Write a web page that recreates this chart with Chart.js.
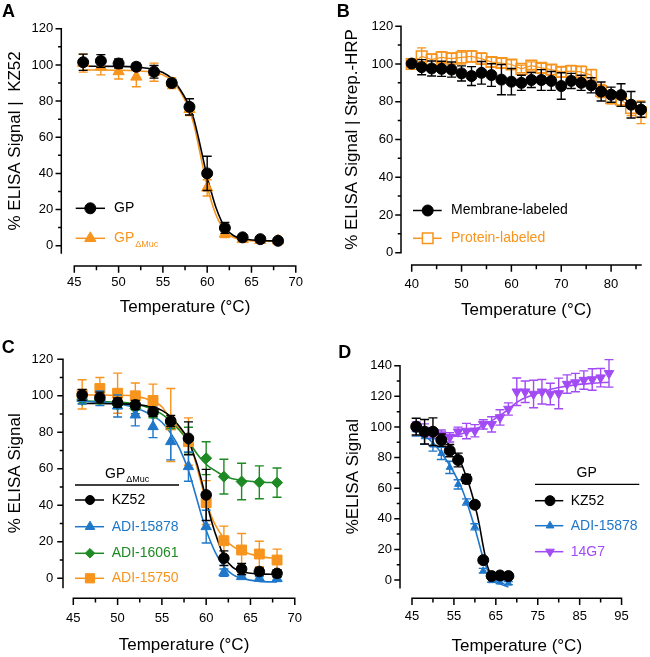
<!DOCTYPE html>
<html><head><meta charset="utf-8">
<script src="https://cdn.jsdelivr.net/npm/chart.js@4.4.1/dist/chart.umd.min.js"></script>
<style>
html,body{margin:0;padding:0;background:#fff;}
#wrap{position:relative;width:650px;height:657px;overflow:hidden;}
canvas{position:absolute;display:block;}
</style></head><body>
<div id="wrap">
<canvas id="cA" width="325" height="330" style="left:0;top:0;width:325px;height:330px"></canvas>
<canvas id="cB" width="325" height="330" style="left:325px;top:0;width:325px;height:330px"></canvas>
<canvas id="cC" width="325" height="327" style="left:0;top:330px;width:325px;height:327px"></canvas>
<canvas id="cD" width="325" height="327" style="left:325px;top:330px;width:325px;height:327px"></canvas>
</div>
<script>
// ---------------- DATA ----------------
// Panel A
const tempA = [46,48,50,52,54,56,58,60,62,64,66,68];
const gpA = [101.5,102.2,100.8,99.0,96.2,90.0,76.8,40.0,9.8,4.6,3.6,2.7];
const gpAErr = [4.5,3.5,2.5,2.0,3.5,2.0,4.5,9.5,3.0,1.5,1.2,1.0];
const gpMucA = [101.0,99.0,96.4,93.4,96.0,90.0,75.5,32.0,6.5,3.5,3.0,2.8];
const gpMucAErr = [5.0,4.5,4.2,5.5,5.0,3.0,3.5,4.5,2.0,1.0,1.0,0.8];
const fitTempA = [46,50,52,54,55,56,57,58,58.5,59,59.5,60,60.5,61,62,63,64,66,68];
const fitGpA = [99.3,99.2,98.8,97.5,95.8,92.5,86,77,70,60,49,38,29,21,10,5.5,3.8,2.9,2.6];
const fitGpMucA = [97.2,97.1,96.8,95.8,94.5,91.5,85,75,67,56,44,33,24,17,8,4.5,3.2,2.6,2.5];
const yTicksA = [0,20,40,60,80,100,120];
const yMinorA = [10,30,50,70,90,110];
const xTicksA = [45,50,55,60,65,70];
const xMinorA = [47.5,52.5,57.5,62.5,67.5];

// Panel B
const tempB = [40,42,44,46,48,50,52,54,56,58,60,62,64,66,68,70,72,74,76,78,80,82,84,86];
const memB = [100.2,98.3,97.6,97.4,97.0,95.0,93.6,95.3,94.1,91.7,90.6,90.0,91.5,91.5,91.0,88.3,91.0,90.0,88.7,85.4,83.7,83.5,78.4,75.8];
const memBErr = [1.0,4,4,4,4,4,5,6,6,8,7,4,4,5.5,5,7,4,4,4,5,4,6,7,4];
const protB = [100,104,102.3,103.5,102.8,103.5,104,102.8,101,100.5,99.7,97.4,99.1,97.9,97.0,95.8,96.2,95.8,94.1,85.7,81.9,81.0,76.7,74.4];
const protBErr = [1.5,4.5,3,3,3,3.5,3,3,2.5,2.5,2.5,2,2,2.5,2.5,2.5,3,3,3,3.5,3,3,4,6];
const yTicksB = [0,20,40,60,80,100,120];
const yMinorB = [10,30,50,70,90,110];
const xTicksB = [40,50,60,70,80];
const xMinorB = [45,55,65,75,85];

// Panel C
const tempC = [46,48,50,52,54,56,58,60,62,64,66,68];
const kzC = [100.5,99.0,96.3,95.0,91.3,86.2,76.7,45.7,11.0,5.1,3.7,2.7];
const kzCErr = [3,3,2.5,2.5,2.5,3,9,14,4,3,2,2];
const adi15878C = [98.5,98.6,94.4,89.5,83.1,74.9,61.2,28.3,3.1,0.9,0,-0.2];
const adi15878CErr = [3,4,6,6,6,10,8,9,2,1,1,1];
const adi16061C = [97.7,97.7,95.0,93.2,90.0,85.0,75.8,65.8,55.7,53.0,52.6,52.4];
const adi16061CErr = [2,2,2,3,2,3,7,9,9.5,10,9,8];
const adi15750C = [100.8,104.0,101.4,100.0,97.4,84.0,74.9,41.5,20.6,15.5,13.3,10.0];
const adi15750CErr = [8,6,11,7,9,20,13,12,8,9,7,6];
const fitTempC = [46,50,52,54,55,56,57,58,58.5,59,59.5,60,60.5,61,62,63,64,66,68];
const fitKzC = [95.8,95.6,95.2,93.8,92,88.5,83,76,69,62,53,43,33,25,12,6,3.7,2.4,2.2];
const fit15878C = [97,95.5,93.5,89,85.5,79.5,71,59,51,42.5,34,26.5,20,14.5,6.5,2,0,-1.7,-2];
const fit16061C = [97.2,96.5,95.5,92.5,90,86,81,75,71.5,68,65,62.5,60.5,59,56,54.5,53.7,52.8,52.4];
const fit15750C = [100.5,100.3,99.8,97,94,87,82,75,69,60,51,42,35,29.5,22,17.5,15,12,10.8];
const yTicksC = [0,20,40,60,80,100,120];
const yMinorC = [10,30,50,70,90,110];
const xTicksC = [45,50,55,60,65,70];
const xMinorC = [47.5,52.5,57.5,62.5,67.5];

// Panel D
const tempD = [46,48,50,52,54,56,58,60,62,64,66,68];
const kzD = [100.2,96.9,96.9,91.4,84.5,78.4,66.0,49.2,13.0,2.6,3.0,2.6];
const kzDErr = [5.5,8,9,4,4,4.5,3,2,2,1,1,1];
const adi15878D = [98,93.6,88.2,82.7,73.6,62.5,51,34.8,6.1,-0.4,-1.3,-2.0];
const adi15878DErr = [4,5,4,4,4,3,2,2,1.5,1,1,1];
const temp14G7 = [46,48,50,52,54,56,58,60,62,64,66,68,70,72,74,76,78,80,82,84,86,88,90,92];
const g14G7 = [100.2,98,95.8,95,93.2,96.9,97.3,97.5,101.7,101.7,106.2,111.7,123,123,121.5,123,121.5,121.9,128,129,130.6,131,132.2,135];
const g14G7Err = [3,4,3,3,3,3,5,4,3,5,5,4,9,7,9,8,7,10,6,6,6,7,6,9];
const fitTempKzD = [46,48,50,52,54,56,57,58,59,60,61,62,63,64,65,66,68];
const fitKzD = [99.3,98.5,96.8,93.5,88,80,74.5,67,59,49,37,22,9,3,1,0.6,0.4];
const fitTemp15878D = [46,48,50,52,54,56,57,58,59,60,61,62,63,64,66,68];
const fit15878D = [98.5,94.5,89.5,83,75,65,59,51.5,43,34,24,14,6.5,1.5,-2.5,-4.5];
const fitTemp14G7 = [46,48,50,52,54,56,58,60,62,64,66,68,70,72,74,76,78,80,84,88,92];
const fit14G7 = [99.5,97.3,95.5,94.5,94.3,95,96.5,98.5,101,104,107.5,111.5,116,119,121,123,124.5,125.8,127.5,128.5,129.2];
const yTicksD = [0,20,40,60,80,100,120,140];
const yMinorD = [10,30,50,70,90,110,130];
const xTicksD = [45,55,65,75,85,95];
const xMinorD = [50,60,70,80,90];

// series names
const namesA = ['GP', 'GP', 'ΔMuc'];
const namesB = ['Membrane-labeled', 'Protein-labeled'];
const namesC = ['KZ52', 'ADI-15878', 'ADI-16061', 'ADI-15750'];
const namesD = ['KZ52', 'ADI-15878', '14G7'];

// ---------------- STYLE ----------------
const FONT = "'Liberation Sans', Arial, Helvetica, sans-serif";
const BLACK = '#000000', ORANGE = '#F7941D', BLUE = '#1F77C9', GREEN = '#1E8A23', PURPLE = '#A24BF5';
Chart.defaults.font.family = FONT;
Chart.defaults.color = '#000';

const PRISM = {};   // per-canvas decoration config (kept outside Chart.js option resolver)

function pts(xs, ys){ return xs.map((x,i)=>({x:x, y:ys[i]})); }

function markerSet(label, xs, ys, errs, color, style, r, extra){
  return Object.assign({
    label: label, data: pts(xs, ys), errors: errs, errorColor: color,
    showLine: false, pointStyle: style, pointRadius: r, pointHoverRadius: r,
    pointBackgroundColor: color, pointBorderColor: color, pointBorderWidth: 1,
    borderColor: color, backgroundColor: color, clip: false
  }, extra || {});
}
function curveSet(label, xs, ys, color){
  return {
    label: label, data: pts(xs, ys), showLine: true, pointRadius: 0, pointHoverRadius: 0,
    borderColor: color, backgroundColor: color, borderWidth: 1.6,
    cubicInterpolationMode: 'monotone', clip: false
  };
}

function drawMarker(ctx, m, x, y){
  const r = m.r, rot = (m.rot || 0) * Math.PI / 180;
  const P = (dx, dy) => [x + dx * Math.cos(rot) - dy * Math.sin(rot), y + dx * Math.sin(rot) + dy * Math.cos(rot)];
  ctx.save();
  ctx.fillStyle = m.fill;
  ctx.strokeStyle = m.color;
  ctx.lineWidth = m.bw;
  ctx.beginPath();
  let poly = null;
  if (m.style === 'circle') {
    ctx.arc(x, y, r, 0, Math.PI * 2);
  } else if (m.style === 'triangle') {
    poly = [P(0, -r), P(r * 0.866, r * 0.5), P(-r * 0.866, r * 0.5)];
  } else if (m.style === 'rect') {
    const s = r * Math.SQRT1_2;
    poly = [P(-s, -s), P(s, -s), P(s, s), P(-s, s)];
  } else if (m.style === 'rectRot') {
    poly = [P(0, -r), P(r, 0), P(0, r), P(-r, 0)];
  }
  if (poly) { ctx.moveTo(poly[0][0], poly[0][1]); for (let i = 1; i < poly.length; i++) ctx.lineTo(poly[i][0], poly[i][1]); ctx.closePath(); }
  ctx.fill();
  ctx.stroke();
  ctx.restore();
}

const prism = {
  id: 'prism',
  beforeDatasetDraw(chart, args) {
    const ds = chart.data.datasets[args.index];
    if (!ds.errors) return;
    const ctx = chart.ctx, xs = chart.scales.x, ys = chart.scales.y;
    ctx.save();
    ctx.strokeStyle = ds.errorColor;
    ctx.lineWidth = 1.4;
    const w = 4.5;
    ds.data.forEach((p, i) => {
      const e = ds.errors[i]; if (!e) return;
      const px = xs.getPixelForValue(p.x);
      const yt = ys.getPixelForValue(p.y + e), yb = ys.getPixelForValue(p.y - e);
      ctx.beginPath();
      ctx.moveTo(px, yt); ctx.lineTo(px, yb);
      ctx.moveTo(px - w, yt); ctx.lineTo(px + w, yt);
      ctx.moveTo(px - w, yb); ctx.lineTo(px + w, yb);
      ctx.stroke();
    });
    ctx.restore();
  },
  afterDraw(chart) {
    const o = PRISM[chart.canvas.id];
    if (!o) return;
    const ctx = chart.ctx, ca = chart.chartArea, xs = chart.scales.x, ys = chart.scales.y;
    ctx.save();
    ctx.strokeStyle = '#000'; ctx.lineWidth = 1.5; ctx.lineCap = 'square';
    // y axis
    const ax = o.yAxisX;
    ctx.beginPath();
    ctx.moveTo(ax, ys.getPixelForValue(ys.max)); ctx.lineTo(ax, ca.bottom);
    o.yTicks.forEach(v => { const y = ys.getPixelForValue(v); ctx.moveTo(ax - 5, y); ctx.lineTo(ax, y); });
    o.yMinor.forEach(v => { const y = ys.getPixelForValue(v); ctx.moveTo(ax - 2.5, y); ctx.lineTo(ax, y); });
    // x axis
    const ay = o.xAxisY;
    ctx.moveTo(ca.left, ay); ctx.lineTo(ca.right, ay);
    o.xTicks.forEach(v => { const x = xs.getPixelForValue(v); ctx.moveTo(x, ay); ctx.lineTo(x, ay + 6); });
    o.xMinor.forEach(v => { const x = xs.getPixelForValue(v); ctx.moveTo(x, ay); ctx.lineTo(x, ay + 3.5); });
    ctx.stroke();
    ctx.lineCap = 'butt';
    // panel letter
    ctx.fillStyle = '#000'; ctx.font = 'bold 18px ' + FONT; ctx.textBaseline = 'alphabetic'; ctx.textAlign = 'left';
    ctx.fillText(o.letter.text, o.letter.x, o.letter.y);
    // legend
    const L = o.legend;
    if (L.header) {
      ctx.font = '14px ' + FONT; ctx.fillStyle = '#000'; ctx.textBaseline = 'middle';
      const w = ctx.measureText(L.header.text).width;
      let sw = 0;
      if (L.header.sub) { ctx.font = '9px ' + FONT; sw = ctx.measureText(L.header.sub).width + 1; }
      const hx = L.header.center ? L.header.x - (w + sw) / 2 : L.header.x;
      ctx.font = '14px ' + FONT; ctx.textAlign = 'left';
      ctx.fillText(L.header.text, hx, L.header.y);
      if (L.header.sub) { ctx.font = '9px ' + FONT; ctx.fillText(L.header.sub, hx + w + 1, L.header.y + 6); }
      ctx.strokeStyle = '#000'; ctx.lineWidth = 1.3;
      ctx.beginPath(); ctx.moveTo(L.hline[0], L.hline[2]); ctx.lineTo(L.hline[1], L.hline[2]); ctx.stroke();
    }
    L.items.forEach((it, i) => {
      const y = L.rows[i];
      ctx.strokeStyle = it.color; ctx.lineWidth = 1.5;
      ctx.beginPath(); ctx.moveTo(L.x1, y); ctx.lineTo(L.x2, y); ctx.stroke();
      drawMarker(ctx, { style: it.style, r: it.r, rot: it.rot || 0, fill: it.fill || it.color, color: it.color, bw: it.bw || 1 }, L.mx, y);
      ctx.fillStyle = it.color; ctx.font = '14px ' + FONT; ctx.textBaseline = 'middle'; ctx.textAlign = 'left';
      ctx.fillText(it.text, L.tx, y);
      if (it.sub) {
        const w = ctx.measureText(it.text).width;
        ctx.font = '9px ' + FONT; ctx.fillText(it.sub, L.tx + w + 1, y + 6);
      }
    });
    ctx.restore();
  }
};

function makeChart(id, datasets, c) {
  PRISM[id] = c.prism;
  return new Chart(document.getElementById(id), {
    type: 'scatter',
    data: { datasets: datasets },
    options: {
      responsive: false, animation: false, events: [],
      layout: { padding: { left: 0, top: c.top, right: c.right, bottom: 0 } },
      plugins: { legend: { display: false }, tooltip: { enabled: false } },
      scales: {
        x: {
          type: 'linear', min: c.xMin, max: c.xMax,
          grid: { display: false, drawTicks: false }, border: { display: false },
          afterBuildTicks: s => { s.ticks = c.prism.xTicks.map(v => ({ value: v })); },
          afterFit: s => { s.height = c.xH; },
          ticks: { autoSkip: false, maxRotation: 0, minRotation: 0, padding: c.xPad, font: { size: 13 }, color: '#000' },
          title: { display: true, text: 'Temperature (°C)', font: { size: 17 }, color: '#000', padding: { top: 0, bottom: c.xTitlePad } }
        },
        y: {
          type: 'linear', min: c.yMin, max: c.yMax,
          grid: { display: false, drawTicks: false }, border: { display: false },
          afterBuildTicks: s => { s.ticks = c.prism.yTicks.map(v => ({ value: v })); },
          afterFit: s => { s.width = c.yW; },
          ticks: { autoSkip: false, padding: c.yPad, font: { size: 13 }, color: '#000' },
          title: { display: true, text: c.yTitle, font: { size: 17 }, color: '#000', padding: { top: c.yTitlePad, bottom: 0 } }
        }
      }
    },
    plugins: [prism]
  });
}

// ---------------- PANEL A ----------------
makeChart('cA', [
  markerSet(namesA[0], tempA, gpA, gpAErr, BLACK, 'circle', 5.5),
  markerSet(namesA[1] + namesA[2], tempA, gpMucA, gpMucAErr, ORANGE, 'triangle', 6.5),
  curveSet('GP fit', fitTempA, fitGpA, BLACK),
  curveSet('GPΔMuc fit', fitTempA, fitGpMucA, ORANGE)
], {
  top: 24.3, right: 19.7, yMin: -4, yMax: 120, xMin: 45, xMax: 70,
  xH: 77.1, yW: 74.3, xPad: 22, yPad: 21, xTitlePad: 12.5, yTitlePad: 5.5,
  yTitle: '% ELISA Signal |  KZ52',
  prism: {
    yAxisX: 61.3, xAxisY: 266, yTicks: yTicksA, yMinor: yMinorA, xTicks: xTicksA, xMinor: xMinorA,
    letter: { text: 'A', x: 2, y: 16.5 },
    legend: {
      x1: 75.7, x2: 105, mx: 90.3, tx: 114, rows: [208.3, 238.3],
      items: [
        { text: namesA[0], color: BLACK, style: 'circle', r: 5.5 },
        { text: namesA[1], sub: namesA[2], color: ORANGE, style: 'triangle', r: 6.5 }
      ]
    }
  }
});

// ---------------- PANEL B ----------------
makeChart('cB', [
  markerSet(namesB[0], tempB, memB, memBErr, BLACK, 'circle', 5.5, { showLine: true, borderWidth: 1.2 }),
  markerSet(namesB[1], tempB, protB, protBErr, ORANGE, 'rect', 7.5, { showLine: true, borderWidth: 1.2, pointBackgroundColor: 'rgba(255,255,255,0)', pointBorderWidth: 1.5 })
], {
  top: 24.3, right: 8.3, yMin: 0, yMax: 120, xMin: 40, xMax: 86,
  xH: 77.3, yW: 86.7, xPad: 24, yPad: 18.4, xTitlePad: 9.8, yTitlePad: 17.3,
  yTitle: '% ELISA Signal | Strep.-HRP',
  prism: {
    yAxisX: 76, xAxisY: 265, yTicks: yTicksB, yMinor: yMinorB, xTicks: xTicksB, xMinor: xMinorB,
    letter: { text: 'B', x: 11.7, y: 17 },
    legend: {
      x1: 88, x2: 116.7, mx: 102.7, tx: 126, rows: [210.5, 238.3],
      items: [
        { text: namesB[0], color: BLACK, style: 'circle', r: 5.5 },
        { text: namesB[1], color: ORANGE, style: 'rect', r: 7.5, fill: '#ffffff', bw: 1.5 }
      ]
    }
  }
});

// ---------------- PANEL C ----------------
makeChart('cC', [
  markerSet(namesC[0], tempC, kzC, kzCErr, BLACK, 'circle', 5.3),
  markerSet(namesC[1], tempC, adi15878C, adi15878CErr, BLUE, 'triangle', 6),
  markerSet(namesC[2], tempC, adi16061C, adi16061CErr, GREEN, 'rectRot', 5.5),
  markerSet(namesC[3], tempC, adi15750C, adi15750CErr, ORANGE, 'rect', 7),
  curveSet('KZ52 fit', fitTempC, fitKzC, BLACK),
  curveSet('ADI-15878 fit', fitTempC, fit15878C, BLUE),
  curveSet('ADI-16061 fit', fitTempC, fit16061C, GREEN),
  curveSet('ADI-15750 fit', fitTempC, fit15750C, ORANGE)
], {
  top: 29.3, right: 20, yMin: -5, yMax: 120, xMin: 45, xMax: 70,
  xH: 69.6, yW: 73.3, xPad: 23, yPad: 20, xTitlePad: 1.5, yTitlePad: 5.5,
  yTitle: '% ELISA Signal',
  prism: {
    yAxisX: 63, xAxisY: 268.3, yTicks: yTicksC, yMinor: yMinorC, xTicks: xTicksC, xMinor: xMinorC,
    letter: { text: 'C', x: 1.7, y: 23.3 },
    legend: {
      header: { text: 'GP', sub: 'ΔMuc', x: 105, y: 144 }, hline: [75, 179, 155],
      x1: 75, x2: 104, mx: 90, tx: 111.7, rows: [170, 196.7, 223.3, 248.3],
      items: [
        { text: namesC[0], color: BLACK, style: 'circle', r: 4.5 },
        { text: namesC[1], color: BLUE, style: 'triangle', r: 5.5 },
        { text: namesC[2], color: GREEN, style: 'rectRot', r: 4.8 },
        { text: namesC[3], color: ORANGE, style: 'rect', r: 6.5 }
      ]
    }
  }
});

// ---------------- PANEL D ----------------
makeChart('cD', [
  markerSet(namesD[0], tempD, kzD, kzDErr, BLACK, 'circle', 5.5),
  markerSet(namesD[1], tempD, adi15878D, adi15878DErr, BLUE, 'triangle', 4),
  markerSet(namesD[2], temp14G7, g14G7, g14G7Err, PURPLE, 'triangle', 5.5, { rotation: 180 }),
  curveSet('KZ52 fit', fitTempKzD, fitKzD, BLACK),
  curveSet('ADI-15878 fit', fitTemp15878D, fit15878D, BLUE),
  curveSet('14G7 fit', fitTemp14G7, fit14G7, PURPLE)
], {
  top: 35.7, right: 8, yMin: -5, yMax: 140, xMin: 45, xMax: 95,
  xH: 69.3, yW: 87, xPad: 21.2, yPad: 20, xTitlePad: 0.3, yTitlePad: 18.1,
  yTitle: '%ELISA Signal',
  prism: {
    yAxisX: 75, xAxisY: 268.3, yTicks: yTicksD, yMinor: yMinorD, xTicks: xTicksD, xMinor: xMinorD,
    letter: { text: 'D', x: 13.3, y: 28.3 },
    legend: {
      header: { text: 'GP', x: 261.7, y: 143, center: true }, hline: [210, 314.3, 154.3],
      x1: 210, x2: 238.3, mx: 225, tx: 245.7, rows: [170.7, 195.7, 221.7],
      items: [
        { text: namesD[0], color: BLACK, style: 'circle', r: 5 },
        { text: namesD[1], color: BLUE, style: 'triangle', r: 4.5 },
        { text: namesD[2], color: PURPLE, style: 'triangle', r: 5, rot: 180 }
      ]
    }
  }
});
</script>
</body></html>
